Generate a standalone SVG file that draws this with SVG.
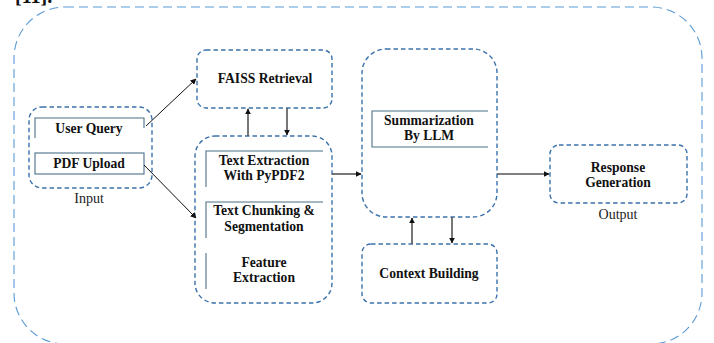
<svg xmlns="http://www.w3.org/2000/svg" width="714" height="343" viewBox="0 0 714 343">
<style>
.outer{fill:none;stroke:#5b9bd5;stroke-width:1.1;stroke-dasharray:9 5}
.grp{fill:none;stroke:#3b72ab;stroke-width:1.4;stroke-dasharray:4.5 3}
.inner{fill:none;stroke:#4d6f88;stroke-width:1.1}
.t{font-family:"Liberation Serif","DejaVu Serif",serif;font-size:13.6px;font-weight:bold;fill:#111;text-anchor:middle}
.lbl{font-family:"Liberation Serif","DejaVu Serif",serif;font-size:14px;fill:#222;text-anchor:middle}
.c{fill:none;stroke:#111;stroke-width:1}
.g{fill:none;stroke:#555;stroke-width:1.6}
</style>
<defs>
<marker id="ah" viewBox="0 0 10 10" refX="9" refY="5" markerWidth="6" markerHeight="6" orient="auto" markerUnits="userSpaceOnUse">
<path d="M0,0 L10,5 L0,10 z" fill="#111"/>
</marker>
</defs>
<rect width="714" height="343" fill="#fff"/>
<text x="15" y="3" font-family="Liberation Serif, serif" font-size="20" font-weight="bold" fill="#111">[11].</text>
<rect class="outer" x="14" y="7" width="688" height="337" rx="51"/>

<g id="input">
<rect class="grp" x="29" y="107" width="123" height="81" rx="13"/>
<path class="inner" d="M35,138 V118 H144 V128"/>
<text class="t" x="89" y="133">User Query</text>
<rect class="inner" x="35" y="153" width="109" height="21"/>
<text class="t" x="89" y="168">PDF Upload</text>
<text class="lbl" x="89" y="203">Input</text>
</g>

<g id="faiss">
<rect class="grp" x="197" y="50" width="135" height="58" rx="9"/>
<text class="t" x="265" y="83">FAISS Retrieval</text>
</g>

<g id="processing">
<rect class="grp" x="195" y="136" width="137" height="167" rx="20"/>
<path class="inner" d="M206,187 V151 H323"/>
<text class="t" x="264" y="165">Text Extraction</text>
<text class="t" x="264" y="180">With PyPDF2</text>
<path class="inner" d="M206,238 V202 H323"/>
<text class="t" x="264" y="215">Text Chunking &amp;</text>
<text class="t" x="264" y="231">Segmentation</text>
<path class="inner" d="M206,253 V289"/>
<text class="t" x="264" y="267">Feature</text>
<text class="t" x="264" y="282">Extraction</text>
</g>

<g id="summarization">
<rect class="grp" x="362" y="49" width="135" height="168" rx="24"/>
<path class="inner" d="M488,111 H372 V147 H488"/>
<text class="t" x="429" y="125">Summarization</text>
<text class="t" x="429" y="140">By LLM</text>
</g>

<g id="context">
<rect class="grp" x="362" y="244" width="135" height="59" rx="9"/>
<text class="t" x="429" y="278">Context Building</text>
</g>

<g id="response">
<rect class="grp" x="550" y="145" width="137" height="58" rx="9"/>
<text class="t" x="618" y="172">Response</text>
<text class="t" x="618" y="187">Generation</text>
<text class="lbl" x="618" y="219">Output</text>
</g>

<g id="connectors">
<path class="c" d="M146,126 L196,79" marker-end="url(#ah)"/>
<path class="c" d="M144,165 L196,218" marker-end="url(#ah)"/>
<path class="g" d="M248,136 V109" marker-end="url(#ah)"/>
<path class="g" d="M287,108 V135" marker-end="url(#ah)"/>
<path class="g" d="M332,174 H361" marker-end="url(#ah)"/>
<path class="g" d="M497,174 H549" marker-end="url(#ah)"/>
<path class="g" d="M412,244 V218" marker-end="url(#ah)"/>
<path class="g" d="M452,217 V243" marker-end="url(#ah)"/>
</g>
</svg>
